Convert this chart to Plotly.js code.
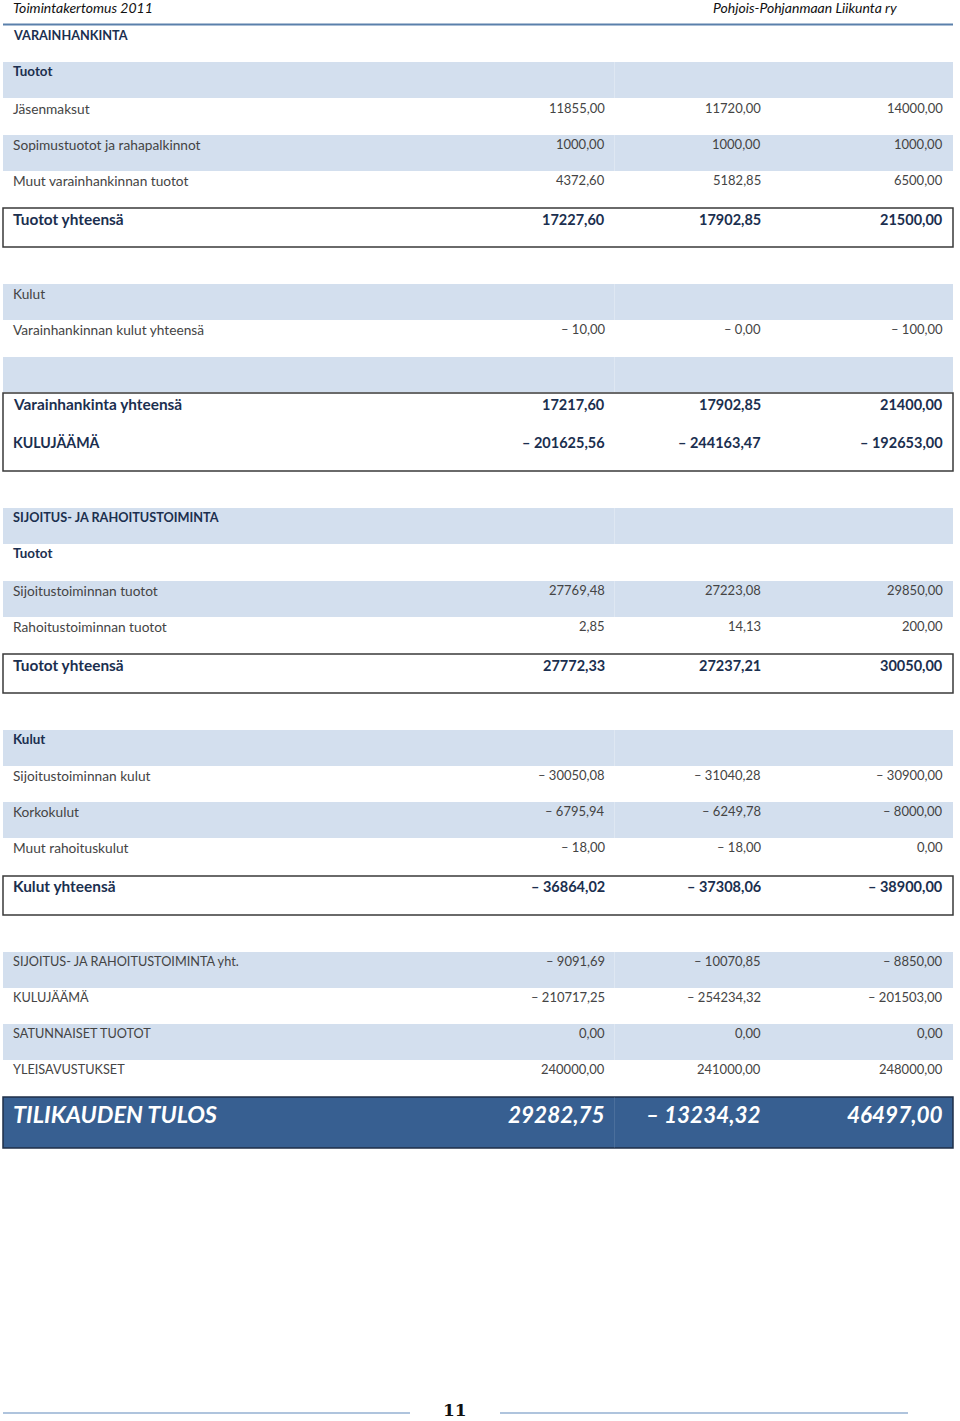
<!DOCTYPE html>
<html>
<head>
<meta charset="utf-8">
<script src="https://cdn.plot.ly/plotly-3.0.1.min.js"></script>
<style>html,body{margin:0;padding:0;background:#fff;}#chart{width:960px;height:1421px;}</style>
</head>
<body>
<div id="chart"></div>
<script>
// ---- Data ----
const rowLabels = [
  'VARAINHANKINTA', 'Tuotot', 'Jäsenmaksut', 'Sopimustuotot ja rahapalkinnot',
  'Muut varainhankinnan tuotot', 'Tuotot yhteensä', 'Kulut', 'Varainhankinnan kulut yhteensä',
  'Varainhankinta yhteensä', 'KULUJÄÄMÄ',
  'SIJOITUS- JA RAHOITUSTOIMINTA', 'Tuotot', 'Sijoitustoiminnan tuotot', 'Rahoitustoiminnan tuotot',
  'Tuotot yhteensä', 'Kulut', 'Sijoitustoiminnan kulut', 'Korkokulut', 'Muut rahoituskulut',
  'Kulut yhteensä', 'SIJOITUS- JA RAHOITUSTOIMINTA yht.', 'KULUJÄÄMÄ', 'SATUNNAISET TUOTOT',
  'YLEISAVUSTUKSET', 'TILIKAUDEN TULOS'
];
const values2010 = [
  null, null, 11855.00, 1000.00, 4372.60, 17227.60, null, -10.00,
  17217.60, -201625.56,
  null, null, 27769.48, 2.85, 27772.33, null, -30050.08, -6795.94, -18.00,
  -36864.02, -9091.69, -210717.25, 0.00, 240000.00, 29282.75
];
const values2011 = [
  null, null, 11720.00, 1000.00, 5182.85, 17902.85, null, -0,
  17902.85, -244163.47,
  null, null, 27223.08, 14.13, 27237.21, null, -31040.28, -6249.78, -18.00,
  -37308.06, -10070.85, -254234.32, 0.00, 241000.00, -13234.32
];
const valuesBudget = [
  null, null, 14000.00, 1000.00, 6500.00, 21500.00, null, -100.00,
  21400.00, -192653.00,
  null, null, 29850.00, 200.00, 30050.00, null, -30900.00, -8000.00, 0.00,
  -38900.00, -8850.00, -201503.00, 0.00, 248000.00, 46497.00
];
const headerLeft = 'Toimintakertomus 2011';
const headerRight = 'Pohjois-Pohjanmaan Liikunta ry';
const pageNumber = '11';

// ---- Layout spec (positions / styles) ----
const rowY = [35, 71, 108, 144, 180, 219, 293, 329, 404, 442,
  517, 553, 590, 626, 665, 739, 775, 811, 847, 886, 961, 997, 1033, 1069, 1114];
// style: 'h' bold heading, 'n' normal, 'b' bold total, 't' grand total
const rowStyle = ['h','h','n','n','n','b','n','n','b','b',
  'h','h','n','n','b','h','n','n','n','b','n','n','n','n','t'];
const bands = [[62,98],[135,171],[284,320],[357,392],[508,544],[581,617],[730,766],[802,838],[952,988],[1024,1060]];
const boxes = [[208,247],[393,471],[654,693],[876,915]];
const darkBox = [1097,1148];
const colX = [605, 761, 943];

function fmt(v){
  if (v === null) return null;
  const neg = v < 0 || Object.is(v, -0);
  const s = Math.abs(v).toFixed(2).replace('.', ',');
  return neg ? '\u2013 ' + s : s;
}
function isUpper(s){ return s.slice(0, 8) === s.slice(0, 8).toUpperCase(); }

const FONT = 'Lato, "Open Sans", sans-serif';
const NAVY = '#1b2f4f';
const GREY = '#444444';
const BAND = '#d3dfee';

const shapes = [];
bands.forEach(b => {
  shapes.push({type:'rect', xref:'x', yref:'y', x0:3, x1:953, y0:b[0], y1:b[1], fillcolor:BAND, line:{width:0}, layer:'below'});
  shapes.push({type:'line', xref:'x', yref:'y', x0:614.5, x1:614.5, y0:b[0], y1:b[1], line:{color:'rgba(255,255,255,0.25)', width:1}, layer:'below'});
});
boxes.forEach(b => {
  shapes.push({type:'rect', xref:'x', yref:'y', x0:3, x1:953, y0:b[0], y1:b[1], fillcolor:'rgba(0,0,0,0)', line:{color:'#3a3a3a', width:1.5}});
});
shapes.push({type:'rect', xref:'x', yref:'y', x0:3, x1:953, y0:darkBox[0], y1:darkBox[1], fillcolor:'#375f91', line:{color:'#1f2f48', width:1.5}, layer:'below'});
shapes.push({type:'line', xref:'x', yref:'y', x0:614.5, x1:614.5, y0:darkBox[0], y1:darkBox[1], line:{color:'rgba(255,255,255,0.10)', width:1}, layer:'below'});
// header line
shapes.push({type:'line', xref:'x', yref:'y', x0:3, x1:953, y0:24.5, y1:24.5, line:{color:'#5a80ab', width:2}});
// footer lines
shapes.push({type:'line', xref:'x', yref:'y', x0:3, x1:410, y0:1413, y1:1413, line:{color:'#95b0d2', width:1.5}});
shapes.push({type:'line', xref:'x', yref:'y', x0:500, x1:908, y0:1413, y1:1413, line:{color:'#95b0d2', width:1.5}});

const annotations = [];
function ann(text, x, y, xanchor, font){
  annotations.push({text:text, x:x, y:y, xref:'x', yref:'y', xanchor:xanchor, yanchor:'middle',
    showarrow:false, font:font, borderpad:0, borderwidth:0});
}
ann('<i>'+headerLeft+'</i>', 13, 7, 'left', {family:FONT, size:14, color:'#111'});
ann('<i>'+headerRight+'</i>', 897, 7, 'right', {family:FONT, size:14, color:'#111'});

const cols = [values2010, values2011, valuesBudget];
rowLabels.forEach((lab, i) => {
  const st = rowStyle[i];
  const y = rowY[i];
  const up = isUpper(lab);
  let lf, vf, lt;
  if (st === 'h') { lf = {family:FONT, size:up ? 12.7 : 13.4, color:NAVY}; lt = '<b>'+lab+'</b>'; vf = lf; }
  else if (st === 'n') { lf = {family:FONT, size:up ? 12.7 : 13.7, color:GREY}; lt = lab; vf = {family:FONT, size:13, color:GREY}; }
  else if (st === 'b') { lf = {family:FONT, size:up ? 14.2 : 15.4, color:NAVY}; lt = '<b>'+lab+'</b>'; vf = {family:FONT, size:14.5, color:NAVY}; }
  else { lf = {family:FONT, size:23.5, color:'#ffffff'}; lt = '<b><i>'+lab+'</i></b>'; vf = {family:FONT, size:22.5, color:'#ffffff'}; }
  ann(lt, 13, y, 'left', lf);
  cols.forEach((c, j) => {
    const s = fmt(c[i]);
    if (s === null) return;
    const t = (st === 'b') ? '<b>'+s+'</b>' : (st === 't') ? '<b><i>'+s+'</i></b>' : s;
    ann(t, colX[j], y, 'right', vf);
  });
});
ann('<b>'+pageNumber+'</b>', 455, 1410, 'center', {family:'"DejaVu Serif", serif', size:17, color:'#111'});

const layout = {
  width:960, height:1421,
  margin:{l:0, r:0, t:0, b:0, pad:0},
  paper_bgcolor:'#ffffff', plot_bgcolor:'#ffffff',
  xaxis:{range:[0,960], visible:false, fixedrange:true},
  yaxis:{range:[1421,0], visible:false, fixedrange:true},
  showlegend:false,
  shapes:shapes,
  annotations:annotations
};
Plotly.newPlot('chart', [{type:'scatter', x:[], y:[], mode:'markers', hoverinfo:'skip'}], layout, {staticPlot:true, displayModeBar:false});
</script>
</body>
</html>
